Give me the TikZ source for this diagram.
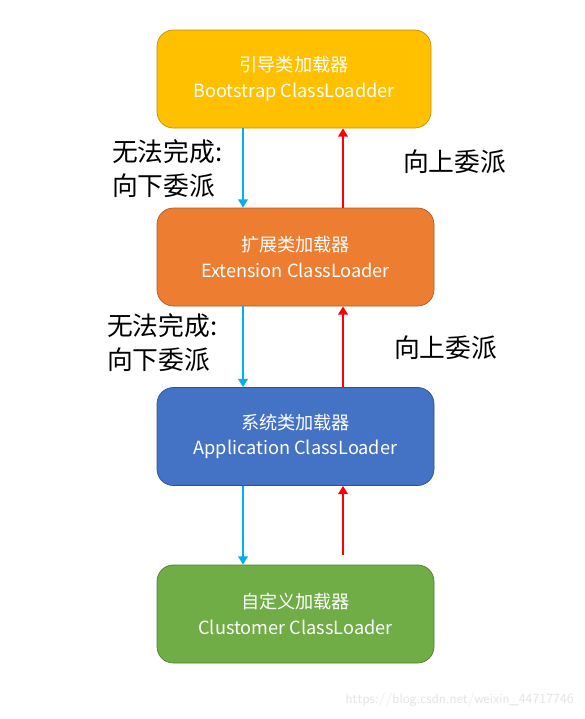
\documentclass[tikz,border=0pt]{standalone}
\usepackage{fontspec}
\newfontfamily\cjk{Noto Sans CJK SC}
\usetikzlibrary{positioning, calc}
\usetikzlibrary{arrows.meta}
\definecolor{bootfill}{HTML}{FFC000}
\definecolor{bootline}{HTML}{BF9000}
\definecolor{extfill}{HTML}{ED7D31}
\definecolor{extline}{HTML}{AE5A21}
\definecolor{appfill}{HTML}{4472C4}
\definecolor{appline}{HTML}{2F528F}
\definecolor{custfill}{HTML}{70AD47}
\definecolor{custline}{HTML}{507E32}
\definecolor{downblue}{HTML}{00B0F0}
\definecolor{upred}{HTML}{FF0000}

\begin{document}
\begin{tikzpicture}[x=0.03cm, y=-0.03cm, font=\cjk,
  loader/.style={rounded corners=14pt, line width=0.6pt, text=white,
    minimum height=98*0.03cm, align=center, font=\cjk\fontsize{15.5}{22}\selectfont},
  down/.style={-{Triangle[width=8pt,length=7pt]}, line width=2pt, downblue},
  up/.style={-{Triangle[width=8pt,length=7pt]}, line width=2pt, upred},
  lab/.style={font=\cjk\fontsize{22}{29}\selectfont, align=left, anchor=west}]

\useasboundingbox (0,0) rectangle (585,719);

% --- Caricatori ---
\node[loader, fill=bootfill, draw=bootline, minimum width=274*0.03cm] (boot) at (294,79)
  {引导类加载器\\Bootstrap ClassLoadder};
\node[loader, fill=extfill, draw=extline, minimum width=277*0.03cm] (ext) at (295.5,257)
  {扩展类加载器\\Extension ClassLoader};
\node[loader, fill=appfill, draw=appline, minimum width=277*0.03cm] (app) at (295.5,436.5)
  {系统类加载器\\Application ClassLoader};
\node[loader, fill=custfill, draw=custline, minimum width=277*0.03cm] (cust) at (295.5,614)
  {自定义加载器\\Clustomer ClassLoader};

% --- Frecce ---
\coordinate (dn) at (243,0);
\coordinate (upx) at (343,0);
\coordinate (up3) at (343,555);
\foreach \a/\b in {boot/ext, ext/app, app/cust}{
  \draw[down] (\a.south -| dn) -- (\b.north -| dn);
}
\draw[up] (ext.north -| upx) -- (boot.south -| upx);
\draw[up] (app.north -| upx) -- (ext.south -| upx);
\draw[up] (up3) -- (app.south -| upx);

% --- Etichette ---
\node[lab] (fail1) at (108,169) {无法完成:\\向下委派};
\node[lab] (fail2) at (103,343) {无法完成:\\向下委派};
\node[lab] (pass1) at (399,162) {向上委派};
\node[lab] (pass2) at (390,348) {向上委派};

\node[font=\fontsize{12}{14}\selectfont\sffamily, text=gray!22, anchor=east] (mark) at (578,700)
  {https://blog.csdn.net/weixin\_44717746};

\end{tikzpicture}
\end{document}
